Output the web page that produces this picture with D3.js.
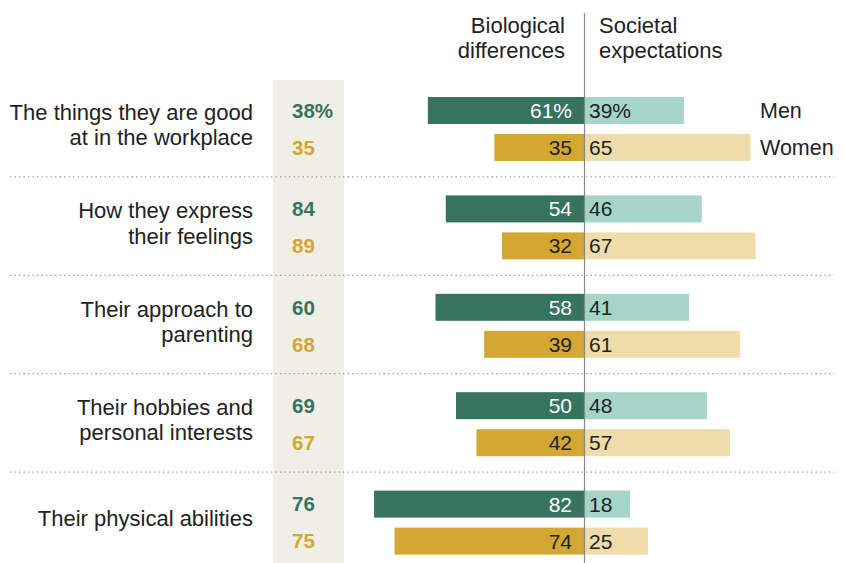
<!DOCTYPE html>
<html>
<head>
<meta charset="utf-8">
<script src="https://cdn.jsdelivr.net/npm/d3@7"></script>
<style>
  body { margin: 0; background: #fff; }
  svg text { font-family: "Liberation Sans", Arial, sans-serif; }
</style>
</head>
<body>
<div class="chart"></div>
<script>
// data
var categories = [
  ["The things they are good", "at in the workplace"],
  ["How they express", "their feelings"],
  ["Their approach to", "parenting"],
  ["Their hobbies and", "personal interests"],
  ["Their physical abilities"]
];
var totalMen   = [38, 84, 60, 69, 76];
var totalWomen = [35, 89, 68, 67, 75];
var bioMen     = [61, 54, 58, 50, 82];
var socMen     = [39, 46, 41, 48, 18];
var bioWomen   = [35, 32, 39, 42, 74];
var socWomen   = [65, 67, 61, 57, 25];
var sexes = ["Men", "Women"];

var width = 845, height = 563;
var center = 584;

var svg = d3.select(".chart").append("svg")
    .attr("width", width)
    .attr("height", height);

// scales
var x = d3.scaleLinear().domain([0, 100]).range([0, 256]);
var y = d3.scaleBand()
    .domain(d3.range(categories.length))
    .range([80, 572]);
var ySex = d3.scaleBand().domain(sexes).range([17, 81]).paddingInner(0.27);

var colors = {
  Men:   {bio: "#36745f", soc: "#a4d5c8", total: "#36745f", bioText: "#fff"},
  Women: {bio: "#d3a731", soc: "#eedcaa", total: "#d3a731", bioText: "#222"}
};

// shaded column for totals
svg.append("rect")
    .attr("x", 273).attr("y", 80)
    .attr("width", 71).attr("height", height - 80)
    .attr("fill", "#efefe6");

// dotted separators
svg.selectAll(".sep")
    .data(d3.range(1, categories.length))
    .enter().append("line")
    .attr("class", "sep")
    .attr("x1", 10).attr("x2", 834)
    .attr("y1", function(d) { return y(d) - 1.5; })
    .attr("y2", function(d) { return y(d) - 1.5; })
    .attr("stroke", "#999")
    .attr("stroke-width", 1.3)
    .attr("stroke-dasharray", "1.3,3.2");

// build rows
var rows = [];
categories.forEach(function(c, i) {
  rows.push({i: i, sex: "Men", bio: bioMen[i], soc: socMen[i], total: totalMen[i]});
  rows.push({i: i, sex: "Women", bio: bioWomen[i], soc: socWomen[i], total: totalWomen[i]});
});

var row = svg.selectAll(".row")
    .data(rows)
    .enter().append("g")
    .attr("class", "row")
    .attr("transform", function(d) { return "translate(0," + (y(d.i) + ySex(d.sex)) + ")"; });

var bh = ySex.bandwidth();

row.append("rect")
    .attr("x", function(d) { return center - x(d.bio); })
    .attr("width", function(d) { return x(d.bio); })
    .attr("height", bh)
    .attr("fill", function(d) { return colors[d.sex].bio; });

row.append("rect")
    .attr("x", center)
    .attr("width", function(d) { return x(d.soc); })
    .attr("height", bh)
    .attr("fill", function(d) { return colors[d.sex].soc; });

row.append("text")
    .attr("x", center - 12)
    .attr("y", bh / 2)
    .attr("dy", "0.36em")
    .attr("text-anchor", "end")
    .attr("font-size", 21)
    .attr("fill", function(d) { return colors[d.sex].bioText; })
    .text(function(d, k) { return d.bio + (k === 0 ? "%" : ""); });

row.append("text")
    .attr("x", center + 5)
    .attr("y", bh / 2)
    .attr("dy", "0.36em")
    .attr("font-size", 21)
    .attr("fill", "#222")
    .text(function(d, k) { return d.soc + (k === 0 ? "%" : ""); });

row.append("text")
    .attr("x", 292)
    .attr("y", bh / 2)
    .attr("dy", "0.36em")
    .attr("font-size", 20.5)
    .attr("font-weight", "bold")
    .attr("fill", function(d) { return colors[d.sex].total; })
    .text(function(d, k) { return d.total + (k === 0 ? "%" : ""); });

// legend labels next to first group
svg.selectAll(".sexlab")
    .data(sexes)
    .enter().append("text")
    .attr("x", 760)
    .attr("y", function(d) { return y(0) + ySex(d) + bh / 2; })
    .attr("dy", "0.36em")
    .attr("font-size", 21.5)
    .attr("fill", "#222")
    .text(function(d) { return d; });

// category labels
var lab = svg.selectAll(".cat")
    .data(categories)
    .enter().append("text")
    .attr("class", "cat")
    .attr("text-anchor", "end")
    .attr("font-size", 22)
    .attr("fill", "#222")
    .attr("transform", function(d, i) {
      var mid = y(i) + 52.5;
      return "translate(253," + (mid - (d.length - 1) * 12.75) + ")";
    });
lab.selectAll("tspan")
    .data(function(d) { return d; })
    .enter().append("tspan")
    .attr("x", 0)
    .attr("dy", function(d, j) { return j === 0 ? 0 : 25.5; })
    .text(function(d) { return d; });

// center axis line
svg.append("line")
    .attr("x1", center + 0.5).attr("x2", center + 0.5)
    .attr("y1", 13).attr("y2", height)
    .attr("stroke", "#888")
    .attr("stroke-width", 1.2);

// column headers
var heads = [
  {lines: ["Biological", "differences"], x: 565, anchor: "end"},
  {lines: ["Societal", "expectations"], x: 599, anchor: "start"}
];
var h = svg.selectAll(".head")
    .data(heads)
    .enter().append("text")
    .attr("class", "head")
    .attr("text-anchor", function(d) { return d.anchor; })
    .attr("font-size", 22)
    .attr("fill", "#222")
    .attr("transform", function(d) { return "translate(" + d.x + ",33)"; });
h.selectAll("tspan")
    .data(function(d) { return d.lines; })
    .enter().append("tspan")
    .attr("x", 0)
    .attr("dy", function(d, j) { return j === 0 ? 0 : 25; })
    .text(function(d) { return d; });
</script>
</body>
</html>
